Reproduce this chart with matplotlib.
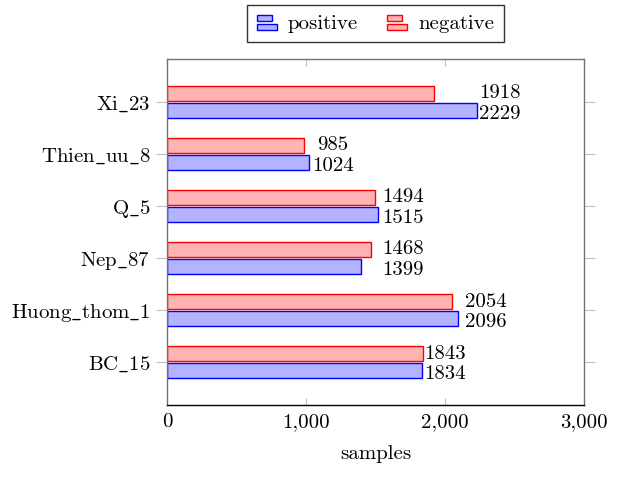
import numpy as np
import matplotlib
matplotlib.use("Agg")
import matplotlib.pyplot as plt
from matplotlib.patches import Rectangle
from matplotlib.legend_handler import HandlerBase

plt.rcParams['font.family'] = ['cmr10', 'DejaVu Serif']
plt.rcParams['axes.formatter.use_mathtext'] = True
plt.rcParams['mathtext.fontset'] = 'cm'

categories = ["BC_15", "Huong_thom_1", "Nep_87", "Q_5", "Thien_uu_8", "Xi_23"]
positive = [1834, 2096, 1399, 1515, 1024, 2229]
negative = [1843, 2054, 1468, 1494, 985, 1918]
# where pgfplots put the value labels (data units, label centre)
label_x = [2000, 2295, 1698, 1698, 1194, 2396]
xticks = [0, 1000, 2000, 3000]
xticklabels = ["0", "1,000", "2,000", "3,000"]

blue_fill = "#b3b3ff"
red_fill = "#ffb3b3"
fs = 15


class BarHandle(HandlerBase):
    # two stacked bars like the pgfplots xbar legend image
    def __init__(self, face, edge):
        super().__init__()
        self.face = face
        self.edge = edge

    def create_artists(self, legend, orig_handle, xdescent, ydescent,
                       width, height, fontsize, trans):
        h = height * 0.38
        r1 = Rectangle((-xdescent, -ydescent + height * 0.55), width * 0.6, h,
                       facecolor=self.face, edgecolor=self.edge, lw=1.0, transform=trans)
        r2 = Rectangle((-xdescent, -ydescent - height * 0.05), width * 0.8, h,
                       facecolor=self.face, edgecolor=self.edge, lw=1.0, transform=trans)
        return [r1, r2]


def tex_label(s):
    # cmr10 has no plain underscore glyph, go through mathtext
    return r"$\mathrm{" + s.replace("_", r"\_") + "}$"


fig = plt.figure(figsize=(6.23, 4.79), dpi=100)
ax = fig.add_axes([0.268, 0.1545, 0.6694, 0.7224])

y = np.arange(len(categories))
bh = 0.29
off = 0.165
bp = ax.barh(y - off, positive, height=bh, color=blue_fill, edgecolor="blue", lw=1.0, label="positive")
bn = ax.barh(y + off, negative, height=bh, color=red_fill, edgecolor="red", lw=1.0, label="negative")

for i in range(len(categories)):
    ax.text(label_x[i], y[i] - off - 0.07, str(positive[i]), ha="center", va="center", fontsize=fs)
    ax.text(label_x[i], y[i] + off, str(negative[i]), ha="center", va="center", fontsize=fs)

ax.set_xlim(0, 3000)
ax.set_ylim(-0.82, 5.82)
ax.set_xticks(xticks)
ax.set_xticklabels(xticklabels, fontsize=fs)
ax.set_yticks(y)
ax.set_yticklabels([tex_label(c) for c in categories], fontsize=fs)
ax.set_xlabel("samples", fontsize=fs, labelpad=10)

ax.tick_params(axis="x", direction="in", length=5, color="0.75", top=True, pad=6)
ax.tick_params(axis="y", direction="out", length=8, color="0.75", right=True, pad=4)

for s in ["left", "top", "right"]:
    ax.spines[s].set_color("0.45")
ax.spines["bottom"].set_color("black")
for s in ax.spines.values():
    s.set_linewidth(1.0)

leg = ax.legend([bp, bn], ["positive", "negative"], ncol=2, loc="upper center",
                bbox_to_anchor=(0.5, 1.156), borderaxespad=0, fontsize=fs, frameon=True,
                fancybox=False, handlelength=1.2, handletextpad=0.3, columnspacing=1.4,
                borderpad=0.45,
                handler_map={bp: BarHandle(blue_fill, "blue"), bn: BarHandle(red_fill, "red")})
leg.get_frame().set_edgecolor("black")
leg.get_frame().set_linewidth(1.0)

fig.savefig("out.png", dpi=100)
